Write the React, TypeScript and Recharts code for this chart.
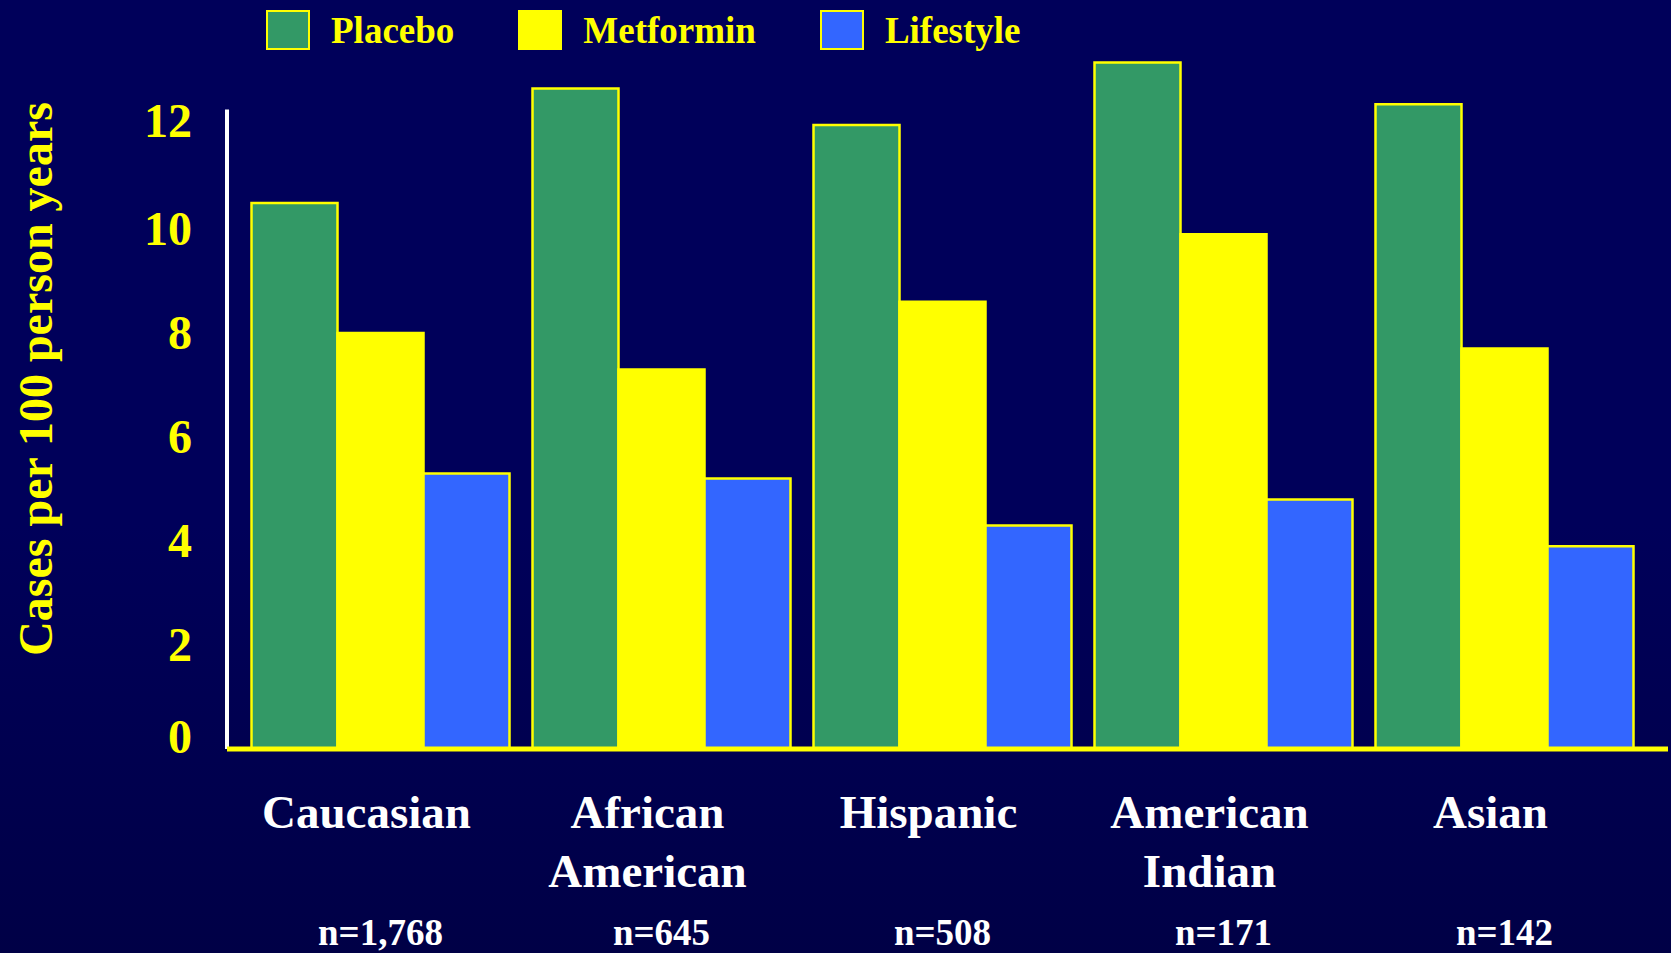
import React from 'react';
import { BarChart, Bar, XAxis, YAxis, Legend, ReferenceLine } from 'recharts';

const categories = ['Caucasian', 'African American', 'Hispanic', 'American Indian', 'Asian'];
const sampleSizes = ['n=1,768', 'n=645', 'n=508', 'n=171', 'n=142'];
const seriesNames = ['Placebo', 'Metformin', 'Lifestyle'];
const placebo = [10.5, 12.7, 12.0, 13.2, 12.4];
const metformin = [8.0, 7.3, 8.6, 9.9, 7.7];
const lifestyle = [5.3, 5.2, 4.3, 4.8, 3.9];
const yTicks = [0, 2, 4, 6, 8, 10, 12];
const axisTop = 12.3;
const yDomainMax = 13.6;

const data = categories.map((c, i) => ({
  category: c,
  placebo: placebo[i],
  metformin: metformin[i],
  lifestyle: lifestyle[i],
}));

const FONT = '"Liberation Serif", "Times New Roman", Times, serif';
const YELLOW = '#FFFF00';

const XTick = (props: any) => {
  const { x, y, payload } = props;
  const idx = categories.indexOf(payload.value);
  const lines = String(payload.value).split(' ');
  return (
    <g>
      {lines.map((l: string, i: number) => (
        <text
          key={i}
          x={x - 14}
          y={y + 79 + i * 59}
          textAnchor="middle"
          fill="#FFFFFF"
          fontSize={47}
          fontWeight="bold"
          fontFamily={FONT}
        >
          {l}
        </text>
      ))}
      <text x={x} y={y + 196} textAnchor="middle" fill="#FFFFFF" fontSize={37} fontWeight="bold" fontFamily={FONT}>
        {sampleSizes[idx]}
      </text>
    </g>
  );
};

const YTick = (props: any) => {
  const { x, y, payload } = props;
  const shift = payload.value === 0 ? -12 : payload.value === 12 ? -4 : 0;
  return (
    <text x={x} y={y + 16 + shift} textAnchor="end" fill={YELLOW} fontSize={48} fontWeight="bold" fontFamily={FONT}>
      {payload.value}
    </text>
  );
};

const YLabel = () => (
  <text
    x={52}
    y={379}
    transform="rotate(-90 52 379)"
    textAnchor="middle"
    fill={YELLOW}
    fontSize={48}
    fontWeight="bold"
    fontFamily={FONT}
  >
    Cases per 100 person years
  </text>
);

const renderLegend = (props: any) => {
  const items = [...(props.payload || [])].sort(
    (a: any, b: any) => seriesNames.indexOf(a.value) - seriesNames.indexOf(b.value)
  );
  return (
    <div style={{ display: 'flex', alignItems: 'flex-start', fontFamily: FONT }}>
      {items.map((item: any, i: number) => (
        <div key={i} style={{ display: 'flex', alignItems: 'flex-start', marginRight: 64 }}>
          <div
            style={{
              width: 44,
              height: 40,
              boxSizing: 'border-box',
              border: `2px solid ${YELLOW}`,
              background: item.color,
            }}
          />
          <span
            style={{
              marginLeft: 21,
              marginTop: 1,
              lineHeight: '40px',
              fontSize: 37,
              fontWeight: 'bold',
              color: YELLOW,
              whiteSpace: 'nowrap',
            }}
          >
            {item.value}
          </span>
        </div>
      ))}
    </div>
  );
};

export default function App() {
  return (
    <div
      style={{
        position: 'fixed',
        top: 0,
        left: 0,
        width: 1671,
        height: 953,
        background: 'linear-gradient(to bottom, #00005A 0%, #00005A 55%, #000046 100%)',
        fontFamily: FONT,
      }}
    >
      <BarChart
        width={1671}
        height={953}
        data={data}
        margin={{ top: 41.8, right: 3, bottom: 0, left: 0 }}
        barCategoryGap={11.5}
        barGap={0}
      >
        <XAxis
          dataKey="category"
          height={204}
          padding={{ left: 13, right: 23 }}
          axisLine={{ stroke: YELLOW, strokeWidth: 5 }}
          tickLine={false}
          tickSize={0}
          tickMargin={0}
          interval={0}
          tick={<XTick />}
        />
        <XAxis xAxisId="frame" type="number" domain={[0, 1]} hide />
        <YAxis
          width={227}
          domain={[0, yDomainMax]}
          ticks={yTicks}
          axisLine={false}
          tickLine={false}
          tickSize={0}
          tickMargin={35}
          tick={<YTick />}
          label={{ content: () => <YLabel /> }}
        />
        <Legend
          layout="horizontal"
          verticalAlign="middle"
          align="center"
          wrapperStyle={{ top: 10, left: 266, width: 1300, height: 40 }}
          content={renderLegend}
        />
        <ReferenceLine
          xAxisId="frame"
          segment={[{ x: 0, y: 0 }, { x: 0, y: axisTop }]}
          stroke="#FFFFFF"
          strokeWidth={4}
        />
        <Bar dataKey="placebo" name={seriesNames[0]} fill="#339966" stroke={YELLOW} strokeWidth={2.5} isAnimationActive={false} />
        <Bar dataKey="metformin" name={seriesNames[1]} fill={YELLOW} stroke={YELLOW} strokeWidth={2.5} isAnimationActive={false} />
        <Bar dataKey="lifestyle" name={seriesNames[2]} fill="#3366FF" stroke={YELLOW} strokeWidth={2.5} isAnimationActive={false} />
      </BarChart>
    </div>
  );
}
